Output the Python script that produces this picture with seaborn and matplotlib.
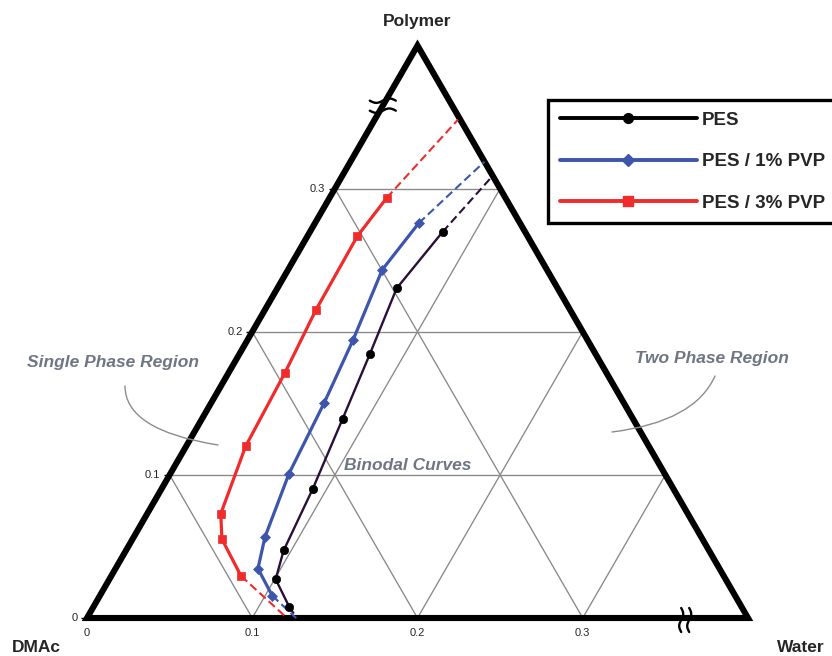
import numpy as np
import matplotlib
matplotlib.use("Agg")
import matplotlib.pyplot as plt
from matplotlib.lines import Line2D
from matplotlib.patches import Polygon
import seaborn as sns

# Binodal compositions (mass fractions); DMAc makes up the balance
pes_water = [0.1184, 0.1006, 0.0954, 0.0915, 0.0851, 0.0789, 0.0722, 0.0803]
pes_polymer = [0.0079, 0.0271, 0.0472, 0.0902, 0.1392, 0.1848, 0.2303, 0.2698]

pvp1_water = [0.1043, 0.0862, 0.0794, 0.0718, 0.0684, 0.0639, 0.0570, 0.0628]
pvp1_polymer = [0.0156, 0.0345, 0.0566, 0.1009, 0.1500, 0.1941, 0.2434, 0.2759]

pvp3_water = [0.0785, 0.0541, 0.0445, 0.0360, 0.0341, 0.0309, 0.0302, 0.0346]
pvp3_polymer = [0.0294, 0.0551, 0.0729, 0.1200, 0.1715, 0.2153, 0.2668, 0.2936]

# Extrapolated ends of each curve: [on the water axis, on the 60 % DMAc edge]
pes_ext_water = [0.127, 0.091]
pes_ext_polymer = [0.0, 0.309]
pvp1_ext_water = [0.1265, 0.0811]
pvp1_ext_polymer = [0.0, 0.3189]
pvp3_ext_water = [0.121, 0.0504]
pvp3_ext_polymer = [0.0, 0.3483]

series_names = ["PES", "PES / 1% PVP", "PES / 3% PVP"]
axis_ticks = [0.0, 0.1, 0.2, 0.3]
tick_labels = ["0", "0.1", "0.2", "0.3"]
scale_max = 0.4      # truncated diagram: water + polymer <= 0.4
break_at = 0.358     # position of the axis-break marks

sns.set_style("white")
plt.rcParams["font.family"] = ["Liberation Sans", "DejaVu Sans"]

SQ3 = np.sqrt(3) / 2


def to_xy(water, polymer):
    w = np.asarray(water, dtype=float)
    p = np.asarray(polymer, dtype=float)
    return w + p / 2, p * SQ3


fig = plt.figure(figsize=(8.32, 6.56), dpi=100)
ax = fig.add_axes([0, 0, 1, 1])
PX = 1652.5  # pixels per unit composition
ax.set_xlim(-87 / PX, (832 - 87) / PX)
ax.set_ylim(-(656 - 618) / PX, 618 / PX)
ax.axis("off")

# ---- grid lines for the three composition directions
grid_kw = dict(color="#888888", linewidth=0.95, zorder=1)
for v in axis_ticks[1:]:
    for (w0, p0), (w1, p1) in [((0, v), (scale_max - v, v)),
                               ((v, 0), (v, scale_max - v)),
                               ((v, 0), (0, v))]:
        gx, gy = to_xy([w0, w1], [p0, p1])
        ax.plot(gx, gy, **grid_kw)

# ---- triangle frame
tx, ty = to_xy([0, scale_max, 0], [0, 0, scale_max])
ax.add_patch(Polygon(np.column_stack([tx, ty]), closed=True, fill=False,
                     edgecolor="black", linewidth=4.4, joinstyle="miter", zorder=3))

# ---- tick labels and small ticks on the polymer axis
for v, lab in zip(axis_ticks, tick_labels):
    bx, by = to_xy(v, 0)
    ax.annotate(lab, xy=(bx, by), xytext=(0, -11), textcoords="offset points",
                ha="center", va="center", fontsize=8)
    lx, ly = to_xy(0, v)
    ax.annotate(lab, xy=(lx, ly), xytext=(-7, 0), textcoords="offset points",
                ha="right", va="center", fontsize=8)
    ax.plot([lx], [ly], marker=0, markersize=4, color="black", zorder=3)

# ---- vertex labels
vlab = dict(ha="center", va="center", fontsize=12.5, fontweight="bold")
ax.annotate("Polymer", xy=to_xy(0, scale_max), xytext=(0, 17.5),
            textcoords="offset points", **vlab)
ax.annotate("DMAc", xy=to_xy(0, 0), xytext=(-36.5, -21.6),
            textcoords="offset points", **vlab)
ax.annotate("Water", xy=to_xy(scale_max, 0), xytext=(38, -21.6),
            textcoords="offset points", **vlab)


# ---- axis-break marks (two short wavy strokes across each truncated axis)
def wave(cx, cy, length, amp, vertical):
    t = np.linspace(-0.5, 0.5, 40)
    a = t * length / PX
    b = amp / PX * np.sin(2 * np.pi * t)
    if vertical:
        return cx + b, cy + a
    return cx + a, cy + b


lx, ly = to_xy(0, break_at)
for off in (-5, 5):
    wx, wy = wave(lx, ly + off / PX, 26, 2.2, vertical=False)
    ax.plot(wx, wy, color="black", linewidth=1.7, zorder=4)
bx, by = to_xy(break_at + 0.004, 0)
for off in (-4, 4):
    wx, wy = wave(bx + off / PX, by - 2 / PX, 24, 2.0, vertical=True)
    ax.plot(wx, wy, color="black", linewidth=1.7, zorder=4)

# ---- binodal curves
series = [
    dict(w=pes_water, p=pes_polymer, ew=pes_ext_water, ep=pes_ext_polymer,
         color="#2a1038", mcolor="black", marker="o", ms=6, lw=1.7),
    dict(w=pvp1_water, p=pvp1_polymer, ew=pvp1_ext_water, ep=pvp1_ext_polymer,
         color="#3d56ab", mcolor="#3d56ab", marker="D", ms=5, lw=2.3),
    dict(w=pvp3_water, p=pvp3_polymer, ew=pvp3_ext_water, ep=pvp3_ext_polymer,
         color="#ef2b2b", mcolor="#ef2b2b", marker="s", ms=6, lw=2.3),
]

for s in series:
    cx, cy = to_xy(s["w"], s["p"])
    sns.lineplot(x=cx, y=cy, sort=False, estimator=None, ax=ax, legend=False,
                 color=s["color"], linewidth=s["lw"], marker=s["marker"],
                 markersize=s["ms"], markerfacecolor=s["mcolor"],
                 markeredgecolor=s["mcolor"], markeredgewidth=0.5, zorder=6)
    for idx, ext in ((0, 0), (-1, 1)):
        ex, ey = to_xy([s["w"][idx], s["ew"][ext]], [s["p"][idx], s["ep"][ext]])
        sns.lineplot(x=ex, y=ey, sort=False, estimator=None, ax=ax, legend=False,
                     color=s["color"], linewidth=1.5, linestyle=(0, (4, 2)), zorder=5)

# ---- legend
handles = [
    Line2D([0], [0], color="black", linewidth=2.8, marker="o", markersize=7),
    Line2D([0], [0], color="#3d56ab", linewidth=2.8, marker="D", markersize=6),
    Line2D([0], [0], color="#ef2b2b", linewidth=2.8, marker="s", markersize=7),
]
leg = ax.legend(handles, series_names, loc="upper left",
                bbox_to_anchor=(548 / 832, 1 - 100 / 656), bbox_transform=fig.transFigure,
                borderaxespad=0, frameon=True, fancybox=False, framealpha=1,
                edgecolor="black", handlelength=7.3, handletextpad=0.3,
                labelspacing=1.3, borderpad=0.62, numpoints=1,
                prop={"weight": "bold", "size": 13.5})
leg.get_frame().set_linewidth(2.4)

# ---- region annotations
note = dict(ha="center", va="center", fontsize=12.5, style="italic",
            fontweight="bold", color="#6f7683")
fig.text(113 / 832, 1 - 362 / 656, "Single Phase Region", **note)
fig.text(712 / 832, 1 - 358 / 656, "Two Phase Region", **note)
fig.text(408 / 832, 1 - 465 / 656, "Binodal Curves", **note)

lead = dict(arrowstyle="-", color="#8c8c8c", linewidth=1.0, shrinkA=0, shrinkB=0)
ax.annotate("", xy=(218 / 832, 1 - 445 / 656), xycoords="figure fraction",
            xytext=(125 / 832, 1 - 386 / 656), textcoords="figure fraction",
            arrowprops=dict(connectionstyle="angle3,angleA=-90,angleB=-9", **lead))
ax.annotate("", xy=(612 / 832, 1 - 432 / 656), xycoords="figure fraction",
            xytext=(715 / 832, 1 - 376 / 656), textcoords="figure fraction",
            arrowprops=dict(connectionstyle="angle3,angleA=-114,angleB=7", **lead))

fig.savefig("out.png", dpi=100)
